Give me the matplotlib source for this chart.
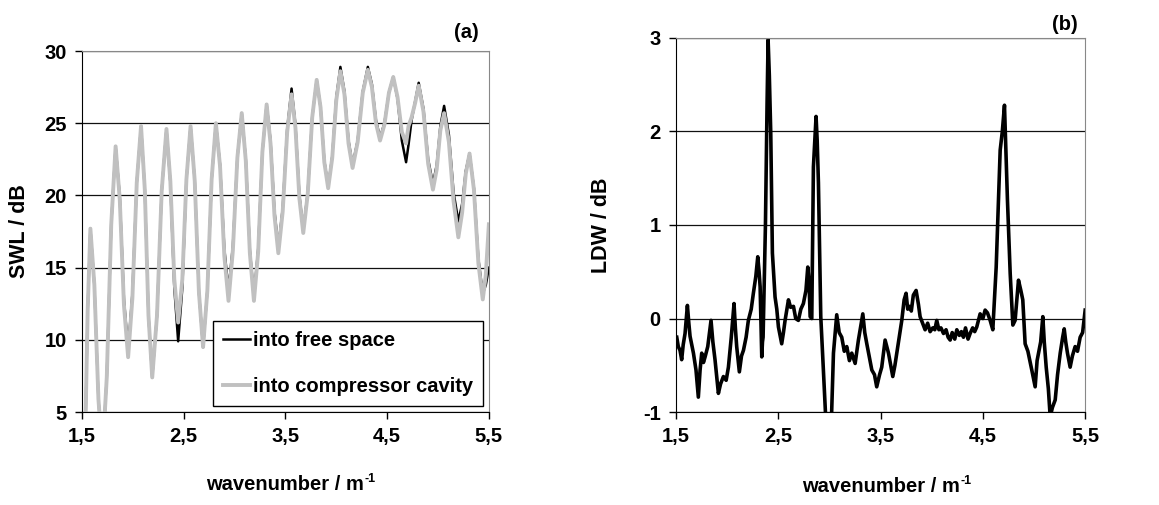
import matplotlib
matplotlib.use('Agg')
import matplotlib.pyplot as plt

plt.rcParams['font.family'] = ['Liberation Sans', 'DejaVu Sans']
plt.rcParams['font.weight'] = 'bold'
plt.rcParams['axes.labelweight'] = 'bold'
plt.rcParams['axes.unicode_minus'] = False

# panel (a): sound power level
wn_a = [1.500, 1.536, 1.555, 1.582, 1.621, 1.661, 1.700, 1.743, 1.787, 1.830,
        1.871, 1.912, 1.953, 1.995, 2.038, 2.080, 2.117, 2.153, 2.190, 2.237,
        2.283, 2.330, 2.368, 2.407, 2.445, 2.486, 2.526, 2.567, 2.608, 2.649,
        2.690, 2.732, 2.774, 2.816, 2.857, 2.899, 2.940, 2.983, 3.027, 3.070,
        3.110, 3.150, 3.190, 3.232, 3.273, 3.315, 3.353, 3.392, 3.430, 3.473,
        3.517, 3.560, 3.598, 3.637, 3.675, 3.719, 3.763, 3.807, 3.845, 3.882,
        3.920, 3.960, 4.000, 4.040, 4.080, 4.120, 4.160, 4.210, 4.260, 4.310,
        4.350, 4.390, 4.430, 4.473, 4.517, 4.560, 4.602, 4.644, 4.686, 4.710,
        4.740, 4.775, 4.810, 4.857, 4.903, 4.950, 4.987, 5.023, 5.060, 5.107,
        5.153, 5.200, 5.237, 5.273, 5.310, 5.353, 5.397, 5.440, 5.470, 5.500]

swl_free = [-1.0, 5.0, 12.0, 17.7, 13.8, 5.9, 2.0, 7.4, 18.0, 23.4,
            19.9, 12.8, 9.3, 13.2, 20.9, 24.8, 20.4, 11.7, 7.4, 11.7,
            20.3, 24.6, 20.9, 13.6, 9.9, 13.6, 21.1, 24.8, 21.0, 13.3,
            9.5, 13.4, 21.1, 25.0, 22.1, 16.3, 13.4, 16.5, 22.6, 25.7,
            22.5, 16.2, 13.0, 16.3, 23.0, 26.3, 23.8, 18.9, 16.4, 19.1,
            24.6, 27.4, 24.9, 20.0, 17.6, 20.2, 25.4, 28.0, 26.1, 22.4,
            20.6, 22.7, 26.8, 28.9, 27.2, 23.8, 22.1, 23.8, 27.2, 28.9,
            27.7, 25.2, 24.0, 25.0, 27.1, 28.2, 26.7, 23.8, 22.3, 23.5,
            25.2, 26.5, 27.8, 26.0, 22.5, 20.8, 22.1, 24.8, 26.2, 24.2,
            20.2, 18.2, 19.4, 21.7, 22.9, 20.5, 15.6, 13.2, 13.8, 15.0]

swl_cavity = [-1.0, 5.0, 12.0, 17.7, 13.8, 5.9, 2.0, 7.4, 18.0, 23.4,
              19.7, 12.4, 8.8, 12.9, 20.9, 24.8, 20.4, 11.7, 7.4, 11.7,
              20.3, 24.6, 21.0, 14.2, 11.2, 14.2, 21.1, 24.8, 21.0, 13.3,
              9.5, 13.4, 21.1, 25.0, 22.0, 15.8, 12.7, 16.2, 22.6, 25.7,
              22.4, 16.0, 12.7, 16.1, 23.0, 26.3, 23.6, 18.6, 16.0, 18.9,
              24.4, 27.0, 24.7, 19.8, 17.4, 20.1, 25.4, 28.0, 26.1, 22.3,
              20.5, 22.6, 26.6, 28.6, 27.0, 23.6, 21.9, 23.7, 27.1, 28.7,
              27.5, 25.0, 23.8, 24.9, 27.1, 28.2, 26.8, 24.4, 23.6, 24.8,
              25.4, 26.4, 27.6, 25.8, 22.2, 20.4, 21.8, 24.5, 25.7, 23.7,
              19.6, 17.1, 18.8, 21.5, 22.9, 20.4, 15.3, 12.8, 14.5, 18.0]

# panel (b): level difference
wn_b = [1.507, 1.522, 1.539, 1.555, 1.570, 1.588, 1.611, 1.625, 1.637, 1.670,
        1.695, 1.718, 1.735, 1.751, 1.768, 1.784, 1.810, 1.842, 1.860, 1.881,
        1.914, 1.935, 1.963, 1.990, 2.012, 2.040, 2.067, 2.080, 2.093, 2.119,
        2.140, 2.159, 2.185, 2.207, 2.235, 2.256, 2.280, 2.299, 2.312, 2.322,
        2.338, 2.345, 2.351, 2.374, 2.390, 2.400, 2.412, 2.426, 2.442, 2.468,
        2.485, 2.501, 2.533, 2.550, 2.566, 2.599, 2.620, 2.648, 2.670, 2.696,
        2.720, 2.745, 2.770, 2.788, 2.800, 2.811, 2.827, 2.843, 2.869, 2.880,
        2.892, 2.915, 2.947, 2.974, 3.013, 3.039, 3.071, 3.095, 3.120, 3.145,
        3.169, 3.195, 3.218, 3.251, 3.283, 3.326, 3.345, 3.365, 3.414, 3.440,
        3.462, 3.490, 3.511, 3.544, 3.560, 3.577, 3.619, 3.640, 3.658, 3.707,
        3.730, 3.749, 3.765, 3.782, 3.800, 3.820, 3.847, 3.870, 3.886, 3.910,
        3.935, 3.960, 3.984, 4.010, 4.030, 4.049, 4.070, 4.090, 4.115, 4.140,
        4.160, 4.180, 4.200, 4.225, 4.245, 4.270, 4.290, 4.310, 4.330, 4.355,
        4.375, 4.400, 4.420, 4.440, 4.473, 4.500, 4.522, 4.545, 4.571, 4.597,
        4.630, 4.669, 4.690, 4.711, 4.725, 4.740, 4.767, 4.793, 4.815, 4.848,
        4.871, 4.890, 4.913, 4.940, 4.978, 5.011, 5.030, 5.044, 5.065, 5.086,
        5.100, 5.119, 5.140, 5.158, 5.180, 5.207, 5.230, 5.256, 5.280, 5.295,
        5.310, 5.327, 5.353, 5.375, 5.402, 5.425, 5.451, 5.475, 5.500]

ldw = [-0.20, -0.30, -0.34, -0.44, -0.28, -0.16, 0.14, -0.05, -0.19, -0.37,
       -0.55, -0.84, -0.55, -0.37, -0.47, -0.41, -0.30, -0.02, -0.25, -0.44,
       -0.80, -0.70, -0.62, -0.66, -0.52, -0.20, 0.16, -0.10, -0.30, -0.57,
       -0.40, -0.34, -0.20, -0.02, 0.10, 0.27, 0.45, 0.66, 0.50, 0.34,
       -0.41, -0.25, -0.20, 1.00, 2.30, 2.98, 2.60, 1.98, 0.70, 0.23,
       0.10, -0.09, -0.27, -0.15, -0.02, 0.20, 0.12, 0.13, 0.00, -0.02,
       0.10, 0.16, 0.30, 0.55, 0.40, 0.02, 0.00, 1.62, 2.16, 1.90,
       1.45, 0.02, -0.69, -1.30, -1.30, -0.37, 0.04, -0.15, -0.20, -0.35,
       -0.30, -0.45, -0.37, -0.48, -0.23, 0.05, -0.15, -0.27, -0.55, -0.60,
       -0.73, -0.60, -0.52, -0.23, -0.30, -0.37, -0.62, -0.50, -0.37, -0.02,
       0.20, 0.27, 0.10, 0.13, 0.08, 0.25, 0.30, 0.15, 0.02, -0.05,
       -0.12, -0.05, -0.14, -0.10, -0.12, -0.02, -0.12, -0.10, -0.16, -0.12,
       -0.20, -0.23, -0.15, -0.22, -0.12, -0.18, -0.14, -0.20, -0.10, -0.22,
       -0.16, -0.10, -0.14, -0.09, 0.05, 0.00, 0.09, 0.06, -0.02, -0.12,
       0.55, 1.80, 2.00, 2.28, 1.80, 1.27, 0.48, -0.07, -0.02, 0.41,
       0.30, 0.20, -0.27, -0.35, -0.55, -0.73, -0.45, -0.37, -0.25, 0.02,
       -0.25, -0.52, -0.75, -1.05, -0.95, -0.87, -0.60, -0.37, -0.20, -0.11,
       -0.25, -0.37, -0.52, -0.40, -0.30, -0.35, -0.20, -0.15, 0.09]

xticks = [1.5, 2.5, 3.5, 4.5, 5.5]
xtick_labels = ['1,5', '2,5', '3,5', '4,5', '5,5']
yticks_a = [5, 10, 15, 20, 25, 30]
yticks_b = [-1, 0, 1, 2, 3]

FS = 14.5

fig = plt.figure(figsize=(11.59, 5.05), dpi=100)
ax1 = fig.add_axes([0.0708, 0.184, 0.351, 0.715])
ax2 = fig.add_axes([0.5833, 0.184, 0.353, 0.741])


def style(ax, yticks):
    ax.set_xlim(1.5, 5.5)
    ax.set_ylim(yticks[0], yticks[-1])
    ax.set_xticks(xticks)
    ax.set_xticklabels(xtick_labels)
    ax.set_yticks(yticks)
    ax.set_yticklabels([str(v) for v in yticks])
    ax.yaxis.grid(True, color='#111111', linewidth=0.9)
    ax.set_axisbelow(True)
    ax.tick_params(direction='out', length=5, width=1, labelsize=FS, pad=6)
    for s in ['top', 'right']:
        ax.spines[s].set_color('#888888')
    for s in ['left', 'bottom']:
        ax.spines[s].set_color('black')
    # x label with a plain-hyphen superscript drawn as a second text
    ax.text(0.5, -0.20, 'wavenumber / m', transform=ax.transAxes,
            ha='center', va='center', fontsize=FS, fontweight='bold')
    ax.text(0.695, -0.185, '-1', transform=ax.transAxes, ha='left',
            va='center', fontsize=9, fontweight='bold')


style(ax1, yticks_a)
ax1.plot(wn_a, swl_free, color='black', lw=1.8, label='into free space')
ax1.plot(wn_a, swl_cavity, color='#c0c0c0', lw=2.8,
         label='into compressor cavity')
ax1.set_ylabel('SWL / dB', fontsize=15.5, fontweight='bold', labelpad=10)
leg = ax1.legend(loc='lower right', bbox_to_anchor=(0.985, 0.017),
                 borderaxespad=0, fancybox=False, framealpha=1,
                 edgecolor='black', fontsize=FS, handlelength=1.3,
                 handletextpad=0.15, labelspacing=1.35, borderpad=0.5)
leg.get_frame().set_linewidth(1.0)
ax1.text(0.945, 1.05, '(a)', transform=ax1.transAxes, ha='center',
         va='center', fontsize=FS, fontweight='bold')

style(ax2, yticks_b)
ax2.plot(wn_b, ldw, color='black', lw=2.6)
ax2.set_ylabel('LDW / dB', fontsize=15.5, fontweight='bold', labelpad=22)
ax2.text(0.95, 1.035, '(b)', transform=ax2.transAxes, ha='center',
         va='center', fontsize=FS, fontweight='bold')

fig.savefig('out.png', dpi=100)
plt.close(fig)
